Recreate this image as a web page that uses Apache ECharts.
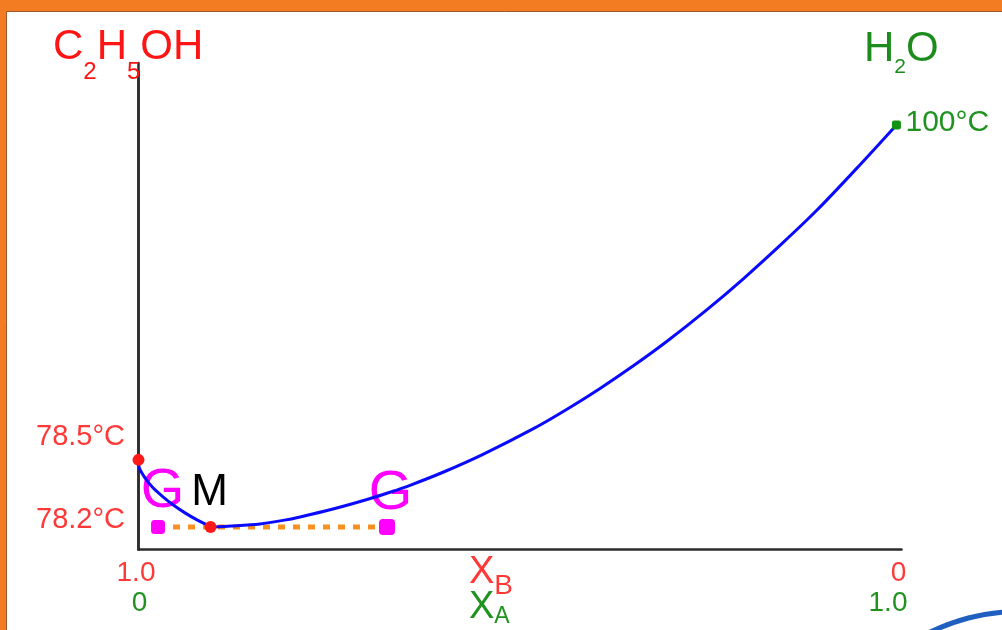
<!DOCTYPE html>
<html>
<head>
<meta charset="utf-8">
<script src="https://cdn.jsdelivr.net/npm/echarts@6/dist/echarts.min.js"></script>
<style>
  html, body { margin: 0; padding: 0; background: #f37b21; }
  #chart { width: 1002px; height: 630px; }
</style>
</head>
<body>
<div id="chart"></div>
<script>
// Boiling-point curve of the ethanol (B) – water (A) system with its minimum-boiling azeotrope.

// Mole fraction of water X_A along the boiling curve
const waterFraction = [0, 0.001, 0.0085, 0.019, 0.0321, 0.0452, 0.0609, 0.0767, 0.0898, 0.0944,
  0.1239, 0.1592, 0.1894, 0.2117, 0.2549, 0.2995, 0.3296, 0.3558, 0.3991, 0.4515,
  0.5170, 0.5616, 0.6049, 0.6481, 0.6927, 0.7451, 0.7923, 0.8447, 0.8893, 0.9430, 0.9934];
// Boiling temperature (°C) at each composition
const boilingT = [78.5, 78.452, 78.397, 78.348, 78.308, 78.276, 78.246, 78.222, 78.206, 78.2,
  78.203, 78.209, 78.2205, 78.232, 78.260, 78.297, 78.328, 78.360, 78.427, 78.536,
  78.732, 78.926, 79.181, 79.528, 80.025, 80.888, 82.058, 84.065, 86.675, 91.91, 100];

const pureEthanolT = 78.5;
const pureWaterT = 100;
const pureWaterX = 0.9934;
const azeotropeT = 78.2;
const azeotropeX = 0.0944;
const azeotropeName = 'M';
const tieLineX = [0.0256, 0.3257];
const tieLineNames = ['G', 'G'];

// Tick labels of the composition axis: X_B (ethanol) on top, X_A (water) below
const xBTickLabels = ['1.0', '0'];
const xATickLabels = ['0', '1.0'];

// Temperature axis is logarithmic in (T - T_SHIFT), which stretches the region around the azeotrope
const T_SHIFT = 77.92;
const T_MIN = 78.139;
const T_MAX = 121.2;
const sh = t => t - T_SHIFT;
const fmtT = t => t + '°C';

const FONT = '"Liberation Sans", Arial, sans-serif';
const RED = '#ff1414';
const LABEL_RED = '#ff3838';
const GREEN = '#1c8c1c';
const LABEL_GREEN = '#1f921f';
const MAGENTA = '#ff00ff';
const AXIS = '#2b2b2b';

const chart = echarts.init(document.getElementById('chart'));

const curveData = waterFraction.map((x, i) => [x, sh(boilingT[i])]);
const tieSymbolSizes = [14, 16];
const tieLabelOffsets = [[4.5, -35.3], [3.5, -33.8]];

const labelRich = (color, padding) => ({
  fontSize: 28, lineHeight: 30, fontFamily: FONT, color: color, align: 'center', padding: padding
});
const titleRich = (size, color, lineHeight, padTop) => ({
  fontSize: size, lineHeight: lineHeight, fontFamily: FONT, fontWeight: 'normal',
  color: color, verticalAlign: 'top', padding: [padTop, 0, 0, 0]
});

const option = {
  animation: false,
  backgroundColor: '#f37b21',
  graphic: [
    {
      type: 'rect', z: -10,
      shape: { x: 6.5, y: 11.5, width: 1000, height: 625 },
      style: { fill: '#ffffff', stroke: '#a0582a', lineWidth: 1 }
    },
    {
      type: 'bezierCurve', z: 100,
      shape: { x1: 928, y1: 633, cpx1: 958, cpy1: 619, cpx2: 980, cpy2: 614, x2: 1005, y2: 612 },
      style: { stroke: '#1f5fbf', lineWidth: 5, fill: null }
    }
  ],
  title: [
    {
      left: 53, top: 26, padding: 0,
      text: '{m|C}{s|2}{m|H}{s|5}{m|OH}',
      textStyle: {
        fontWeight: 'normal',
        rich: { m: titleRich(42, RED, 42, 0), s: titleRich(24, RED, 24, 34) }
      }
    },
    {
      left: 864, top: 28, padding: 0,
      text: '{m|H}{s|2}{m|O}',
      textStyle: {
        fontWeight: 'normal',
        rich: { m: titleRich(42, GREEN, 42, 0), s: titleRich(21, GREEN, 21, 29) }
      }
    },
    {
      left: 469, top: 554, padding: 0,
      text: '{m|X}{s|B}',
      textStyle: {
        fontWeight: 'normal',
        rich: { m: titleRich(38, LABEL_RED, 38, 0), s: titleRich(28, LABEL_RED, 28, 18) }
      }
    },
    {
      left: 469, top: 589, padding: 0,
      text: '{m|X}{s|A}',
      textStyle: {
        fontWeight: 'normal',
        rich: { m: titleRich(38, LABEL_GREEN, 38, 0), s: titleRich(23, LABEL_GREEN, 23, 16) }
      }
    }
  ],
  grid: [
    { left: 138.5, right: 100.5, top: 63, bottom: 80.5 },
    { left: 138.5, right: 100.5, top: 72, bottom: 80.5 }
  ],
  xAxis: [
    {
      gridIndex: 0, type: 'value', min: 0, max: 1, interval: 1,
      axisLine: { show: true, onZero: false, lineStyle: { color: AXIS, width: 2.5 } },
      axisTick: { show: false },
      splitLine: { show: false },
      axisLabel: {
        margin: 8.5,
        formatter: v => v < 0.5
          ? '{r0|' + xBTickLabels[0] + '}\n{g0|' + xATickLabels[0] + '}'
          : '{r1|' + xBTickLabels[1] + '}\n{g1|' + xATickLabels[1] + '}',
        rich: {
          r0: labelRich(LABEL_RED, [0, 5, 0, 0]),
          g0: labelRich(LABEL_GREEN, [0, 0, 0, 2]),
          r1: labelRich(LABEL_RED, [0, 6, 0, 0]),
          g1: labelRich(LABEL_GREEN, [0, 27, 0, 0])
        }
      }
    },
    { gridIndex: 1, type: 'value', min: 0, max: 1, show: false }
  ],
  yAxis: [
    {
      gridIndex: 0, type: 'log', min: sh(T_MIN), max: sh(T_MAX),
      axisLine: { show: true, lineStyle: { color: AXIS, width: 2.5 } },
      axisTick: { show: false },
      splitLine: { show: false },
      minorTick: { show: false },
      axisLabel: {
        customValues: [azeotropeT, pureEthanolT].map(sh),
        margin: 13.5,
        formatter: v => {
          const t = +(v + T_SHIFT).toFixed(1);
          return (t === pureEthanolT ? '{hi|' : '{lo|') + fmtT(t) + '}';
        },
        rich: {
          hi: { fontSize: 29, fontFamily: FONT, color: LABEL_RED, padding: [0, 0, 46, 0] },
          lo: { fontSize: 29, fontFamily: FONT, color: LABEL_RED, padding: [0, 0, 14, 0] }
        }
      }
    },
    {
      gridIndex: 1, type: 'value', min: 0, max: 1, position: 'right',
      axisLine: { show: true, lineStyle: { color: AXIS, width: 2.5 } },
      axisTick: { show: false },
      axisLabel: { show: false },
      splitLine: { show: false }
    }
  ],
  series: [
    {
      // horizontal tie line at the azeotrope temperature, ending in the two vapour points G
      type: 'line', name: 'tie line', z: 2,
      data: tieLineX.map((x, i) => ({
        value: [x, sh(azeotropeT)],
        symbolSize: tieSymbolSizes[i],
        label: { offset: tieLabelOffsets[i] }
      })),
      symbol: 'roundRect',
      itemStyle: { color: MAGENTA },
      lineStyle: { color: '#f7901e', width: 5, type: [7, 8] },
      label: {
        show: true, position: 'inside',
        formatter: p => tieLineNames[p.dataIndex],
        fontSize: 56, fontFamily: FONT, color: MAGENTA
      }
    },
    {
      type: 'line', name: 'boiling curve', z: 3,
      data: curveData, smooth: 0.3, symbol: 'none',
      lineStyle: { color: '#0a0aff', width: 3 }
    },
    {
      type: 'scatter', name: 'azeotrope', z: 4, clip: false,
      data: [[azeotropeX, sh(azeotropeT)]],
      symbolSize: 12,
      itemStyle: { color: '#ff1a1a', opacity: 1 },
      label: {
        show: true, position: 'inside', offset: [-1, -34.5],
        formatter: azeotropeName,
        fontSize: 44, fontFamily: FONT, color: '#000000'
      }
    },
    {
      type: 'scatter', name: 'pure ethanol', z: 4, clip: false,
      data: [[0, sh(pureEthanolT)]],
      symbolSize: 12,
      itemStyle: { color: '#ff1a1a', opacity: 1 }
    },
    {
      type: 'scatter', name: 'pure water', z: 4, clip: false,
      data: [[pureWaterX, sh(pureWaterT)]],
      symbol: 'roundRect', symbolSize: 9,
      itemStyle: { color: '#149414', opacity: 1 },
      label: {
        show: true, position: 'right', distance: 4.5, offset: [0, -2.6],
        formatter: fmtT(pureWaterT),
        fontSize: 30, fontFamily: FONT, color: LABEL_GREEN
      }
    }
  ]
};

chart.setOption(option);
</script>
</body>
</html>
